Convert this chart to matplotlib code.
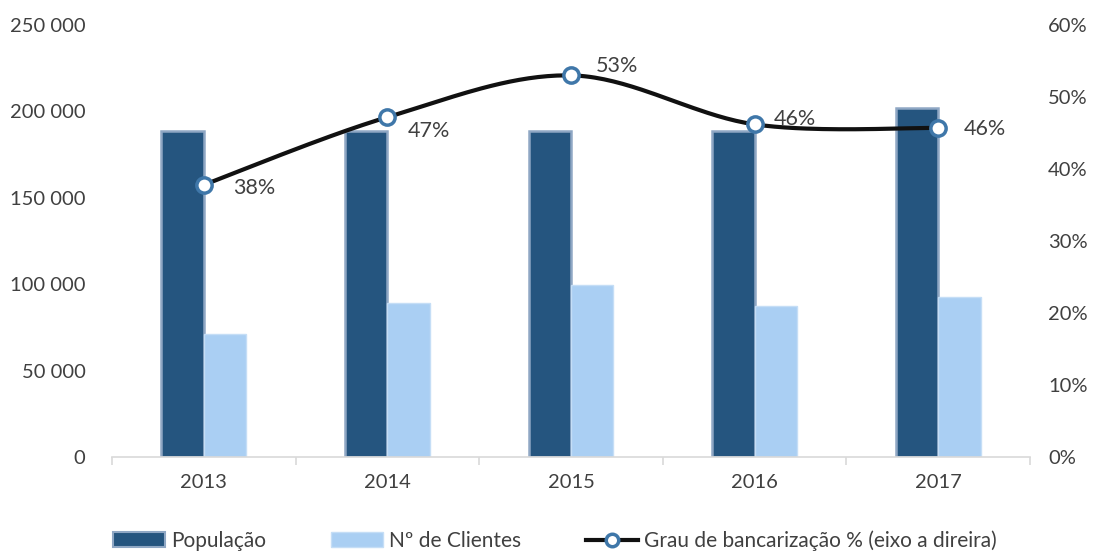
import matplotlib
matplotlib.use("Agg")
import matplotlib.pyplot as plt
from matplotlib.ticker import FuncFormatter, MultipleLocator
from matplotlib.patches import Patch
from matplotlib.lines import Line2D
import numpy as np

# data
anos = ["2013", "2014", "2015", "2016", "2017"]
populacao = [188500, 188500, 188500, 188500, 202000]
clientes = [71000, 89000, 99500, 87300, 92500]
grau = [37.8, 47.2, 53.0, 46.2, 45.7]
grau_labels = ["38%", "47%", "53%", "46%", "46%"]

plt.rcParams["font.family"] = ["Lato", "DejaVu Sans"]
text_color = "#404040"


def smooth_curve(xs, ys, steps=40):
    """
    Excel-like smoothed line (Catmull-Rom as cubic Bezier segments)
    :return: x and y arrays of the curve
    """
    pts = np.column_stack([xs, ys]).astype(float)
    ext = np.vstack([pts[0], pts, pts[-1]])
    t = np.linspace(0, 1, steps)[:, None]
    out = []
    for i in range(len(pts) - 1):
        p0, p1, p2, p3 = ext[i], ext[i + 1], ext[i + 2], ext[i + 3]
        c1 = p1 + (p2 - p0) / 6
        c2 = p2 - (p3 - p1) / 6
        seg = ((1 - t) ** 3) * p1 + 3 * ((1 - t) ** 2) * t * c1 + 3 * (1 - t) * t ** 2 * c2 + t ** 3 * p2
        out.append(seg)
    curve = np.vstack(out)
    return curve[:, 0], curve[:, 1]


fig = plt.figure(figsize=(10.97, 5.53), dpi=100)
ax = fig.add_axes([0.102, 0.1736, 0.837, 0.7812])
x = np.arange(len(anos))
w = 0.23

ax.bar(x - w / 2, populacao, width=w, color="#25557f", edgecolor="#8fa7c4", linewidth=1.8, label="População")
ax.bar(x + w / 2, clientes, width=w, color="#aacff3", edgecolor="#c5def6", linewidth=1, label="Nº de Clientes")

ax.set_xlim(-0.5, len(anos) - 0.5)
ax.set_ylim(0, 250000)
ax.yaxis.set_major_locator(MultipleLocator(50000))
ax.yaxis.set_major_formatter(FuncFormatter(lambda v, p: f"{int(v):,}".replace(",", " ")))
ax.set_xticks(x)
ax.set_xticklabels(anos)
ax.set_xticks(np.arange(-0.5, len(anos)), minor=True)
ax.tick_params(axis="x", which="major", length=0, pad=12, labelsize=14.5, colors=text_color)
ax.tick_params(axis="x", which="minor", length=6, color="#d9d9d9", width=1.2)
ax.tick_params(axis="y", length=0, pad=19, labelsize=14.5, colors=text_color)
for s in ["top", "left", "right"]:
    ax.spines[s].set_visible(False)
ax.spines["bottom"].set_color("#d9d9d9")
ax.spines["bottom"].set_linewidth(1.2)

ax2 = ax.twinx()
ax2.set_ylim(0, 60)
ax2.yaxis.set_major_locator(MultipleLocator(10))
ax2.yaxis.set_major_formatter(FuncFormatter(lambda v, p: f"{int(v)}%"))
ax2.tick_params(axis="y", length=0, pad=13, labelsize=14.5, colors=text_color)
for s in ["top", "left", "right", "bottom"]:
    ax2.spines[s].set_visible(False)

cx, cy = smooth_curve(x, grau)
ax2.plot(cx, cy, color="#111111", linewidth=3, zorder=3)
ax2.plot(x, grau, linestyle="none", marker="o", markersize=11, markerfacecolor="white",
         markeredgecolor="#3f77a9", markeredgewidth=2.5, zorder=4)

offsets = [(21, -2), (15, -10), (18, 7), (14, 4), (18, -1)]
for xi, yi, lab, off in zip(x, grau, grau_labels, offsets):
    ax2.annotate(lab, (xi, yi), xytext=off, textcoords="offset points", ha="left", va="center",
                 fontsize=15.5, color=text_color)

handles = [
    Patch(facecolor="#25557f", edgecolor="#8fa7c4", linewidth=1.5),
    Patch(facecolor="#aacff3", edgecolor="#c5def6"),
    Line2D([0], [0], color="#111111", linewidth=3, marker="o", markersize=9,
           markerfacecolor="white", markeredgecolor="#3f77a9", markeredgewidth=2.5),
]
labels = ["População", "Nº de Clientes", "Grau de bancarização % (eixo a direira)"]
fig.legend(handles, labels, loc="center", bbox_to_anchor=(0.506, 0.022), ncol=3, frameon=False,
           fontsize=15, labelcolor=text_color, handlelength=2.5, handleheight=0.75,
           handletextpad=0.3, columnspacing=3.1)

fig.savefig("out.png", dpi=100)
